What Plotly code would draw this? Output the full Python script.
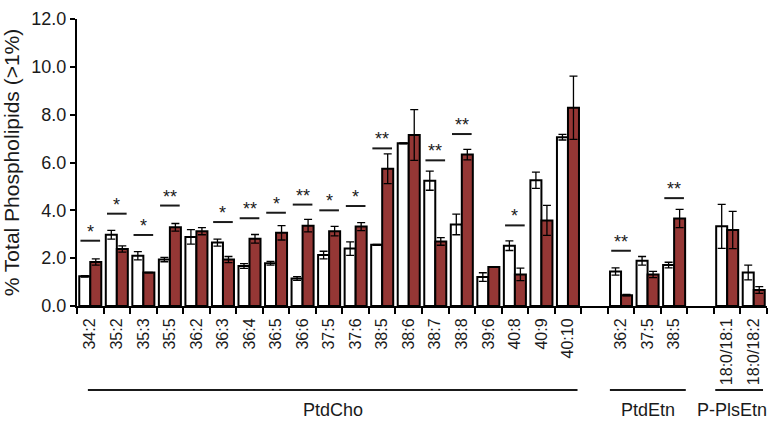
import plotly.graph_objects as go

# x slots: empty strings are spacer slots between lipid classes
categories = [
    "34:2", "35:2", "35:3", "35:5", "36:2", "36:3", "36:4", "36:5", "36:6", "37:5",
    "37:6", "38:5", "38:6", "38:7", "38:8", "39:6", "40:8", "40:9", "40:10", "",
    "36:2", "37:5", "38:5", "", "18:0/18:1", "18:0/18:2",
]
control = [
    1.24, 2.98, 2.10, 1.94, 2.89, 2.65, 1.67, 1.79, 1.15, 2.13,
    2.40, 2.56, 6.80, 5.24, 3.41, 1.21, 2.52, 5.26, 7.06, None,
    1.44, 1.89, 1.71, None, 3.33, 1.40,
]
control_err = [
    0.03, 0.18, 0.17, 0.09, 0.30, 0.15, 0.10, 0.08, 0.08, 0.16,
    0.28, 0.02, 0.02, 0.40, 0.43, 0.18, 0.20, 0.34, 0.12, None,
    0.15, 0.18, 0.12, None, 0.92, 0.31,
]
treated = [
    1.84, 2.38, 1.40, 3.29, 3.13, 1.94, 2.81, 3.06, 3.36, 3.13,
    3.32, 5.74, 7.15, 2.70, 6.33, 1.63, 1.32, 3.58, 8.29, None,
    0.45, 1.32, 3.66, None, 3.18, 0.67,
]
treated_err = [
    0.13, 0.13, 0.01, 0.16, 0.15, 0.13, 0.18, 0.30, 0.26, 0.20,
    0.17, 0.62, 1.06, 0.16, 0.22, 0.01, 0.26, 0.63, 1.32, None,
    0.03, 0.13, 0.38, None, 0.78, 0.14,
]
sig = [
    "*", "*", "*", "**", "", "*", "**", "*", "**", "*",
    "*", "**", "", "**", "**", "", "*", "", "", "",
    "**", "", "**", "", "", "",
]
sig_y = [
    2.73, 3.86, 2.97, 4.20, None, 3.51, 3.67, 3.90, 4.24, 4.00,
    4.18, 6.59, None, 6.09, 7.19, None, 3.37, None, None, None,
    2.31, None, 4.51, None, None, None,
]
groups = ["PtdCho", "PtdEtn", "P-PlsEtn"]

RED = "#953735"
INK = "#1a1a1a"
FONT = "Liberation Sans, Arial, sans-serif"

x = list(range(len(categories)))

fig = go.Figure()
for vals, errs, color in [(control, control_err, "white"), (treated, treated_err, RED)]:
    fig.add_trace(
        go.Bar(
            x=x,
            y=vals,
            marker=dict(color=color, line=dict(color="black", width=2)),
            error_y=dict(type="data", array=errs, color="black", thickness=1.3, width=4),
            showlegend=False,
        )
    )

# significance bars
lx, ly = [], []
for i, (s, v) in enumerate(zip(sig, sig_y)):
    if s:
        lx += [i - 0.37, i + 0.37, None]
        ly += [v, v, None]
        fig.add_annotation(
            x=i, y=v, text=s, showarrow=False, yanchor="bottom", yshift=-3,
            font=dict(size=18, color=INK, family=FONT),
        )
fig.add_trace(go.Scatter(x=lx, y=ly, mode="lines", line=dict(color=INK, width=2),
                         showlegend=False, hoverinfo="skip"))

# group brackets under the axis
spans = [(-0.09, 18.36, 9.15), (19.58, 22.44, 21.0), (23.55, 25.35, 24.19)]
for name, (x0, x1, xc) in zip(groups, spans):
    fig.add_shape(type="line", xref="x", yref="paper", x0=x0, x1=x1, y0=-0.293, y1=-0.293,
                  line=dict(color=INK, width=2))
    fig.add_annotation(x=xc, y=-0.361, xref="x", yref="paper", text=name, showarrow=False,
                       yanchor="middle", font=dict(size=18, color=INK, family=FONT))

fig.update_layout(
    width=776,
    height=422,
    margin=dict(l=74, r=9, t=10, b=116),
    paper_bgcolor="white",
    plot_bgcolor="white",
    barmode="group",
    bargap=0.17,
    bargroupgap=0,
    font=dict(family=FONT, color=INK),
)
fig.update_xaxes(
    range=[-0.5, len(categories) - 0.5],
    tickmode="array",
    tickvals=x,
    ticktext=categories,
    tickangle=-90,
    ticks="",
    ticklabelstandoff=4,
    tickfont=dict(size=16, color=INK),
    minor=dict(tickmode="array", tickvals=[i - 0.5 for i in range(len(categories) + 1)],
               ticks="outside", ticklen=6, tickwidth=1.5, tickcolor="black"),
    showline=True,
    linecolor="black",
    linewidth=2,
    showgrid=False,
    zeroline=False,
)
fig.update_yaxes(
    range=[0, 12],
    dtick=2,
    tickformat=".1f",
    ticks="outside",
    ticklen=5,
    tickwidth=1.5,
    tickcolor="black",
    tickfont=dict(size=18, color=INK),
    showline=True,
    linecolor="black",
    linewidth=2,
    showgrid=False,
    zeroline=False,
    title=dict(text="% Total Phospholipids (>1%)", font=dict(size=21, color=INK), standoff=8),
)

# drop the browser's default body margin so the 776x422 figure fills the window
fig.write_html(
    "out.html",
    config={"displayModeBar": False},
    post_script="document.body.style.margin = '0';",
)
